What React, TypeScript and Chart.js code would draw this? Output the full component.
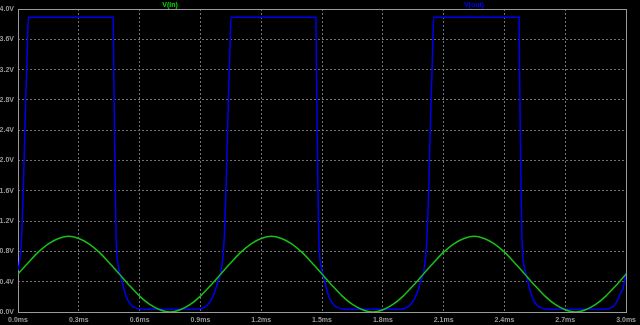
import React, { useEffect, useRef } from "react";
import { Chart, registerables } from "chart.js";
Chart.register(...registerables);

const seriesNames = ["V(in)", "V(out)"];
const lineColors = ["#18c018", "#0000f0"];
const labelColors = ["#00e000", "#0000ff"];

// V(in) sampled every 0.05 ms
const vinTimes = [
  0.0, 0.05, 0.1, 0.15, 0.2, 0.25, 0.3, 0.35, 0.4, 0.45,
  0.5, 0.55, 0.6, 0.65, 0.7, 0.75, 0.8, 0.85, 0.9, 0.95,
  1.0, 1.05, 1.1, 1.15, 1.2, 1.25, 1.3, 1.35, 1.4, 1.45,
  1.5, 1.55, 1.6, 1.65, 1.7, 1.75, 1.8, 1.85, 1.9, 1.95,
  2.0, 2.05, 2.1, 2.15, 2.2, 2.25, 2.3, 2.35, 2.4, 2.45,
  2.5, 2.55, 2.6, 2.65, 2.7, 2.75, 2.8, 2.85, 2.9, 2.95,
  3.0,
];
const vinValues = [
  0.5, 0.65, 0.79, 0.9, 0.97, 1.0, 0.97, 0.9, 0.79, 0.65,
  0.5, 0.35, 0.21, 0.1, 0.03, 0.0, 0.03, 0.1, 0.21, 0.35,
  0.5, 0.65, 0.79, 0.9, 0.97, 1.0, 0.97, 0.9, 0.79, 0.65,
  0.5, 0.35, 0.21, 0.1, 0.03, 0.0, 0.03, 0.1, 0.21, 0.35,
  0.5, 0.65, 0.79, 0.9, 0.97, 1.0, 0.97, 0.9, 0.79, 0.65,
  0.5, 0.35, 0.21, 0.1, 0.03, 0.0, 0.03, 0.1, 0.21, 0.35,
  0.5,
];

// V(out) read points
const voutTimes = [
  0.0, 0.005, 0.012, 0.018, 0.022, 0.026, 0.03, 0.034, 0.039, 0.043, 0.047, 0.051,
  0.47, 0.472, 0.476, 0.48, 0.484, 0.488, 0.494, 0.5, 0.508, 0.517, 0.525, 0.533, 0.541, 0.553, 0.565, 0.58, 0.598, 0.65,
  0.85, 0.892, 0.91, 0.925, 0.94, 0.957, 0.97, 0.982, 0.992, 1.0,
  1.005, 1.012, 1.018, 1.022, 1.026, 1.03, 1.034, 1.039, 1.043, 1.047, 1.051,
  1.47, 1.472, 1.476, 1.48, 1.484, 1.488, 1.494, 1.5, 1.508, 1.517, 1.525, 1.533, 1.541, 1.553, 1.565, 1.58, 1.598, 1.65,
  1.85, 1.892, 1.91, 1.925, 1.94, 1.957, 1.97, 1.982, 1.992, 2.0,
  2.005, 2.012, 2.018, 2.022, 2.026, 2.03, 2.034, 2.039, 2.043, 2.047, 2.051,
  2.472, 2.474, 2.478, 2.482, 2.486, 2.49, 2.496, 2.502, 2.51, 2.519, 2.527, 2.535, 2.543, 2.555, 2.567, 2.582, 2.6, 2.65,
  2.85, 2.902, 2.92, 2.935, 2.951, 2.965, 2.975, 2.984, 2.993, 3.0,
];
const voutValues = [
  0.55, 0.62, 0.76, 1.0, 1.3, 1.6, 2.0, 2.4, 2.9, 3.2, 3.6, 3.89,
  3.89, 3.3, 2.4, 1.6, 1.0, 0.75, 0.62, 0.54, 0.46, 0.36, 0.28, 0.21, 0.16, 0.11, 0.075, 0.055, 0.04, 0.035,
  0.035, 0.04, 0.05, 0.07, 0.11, 0.18, 0.26, 0.36, 0.45, 0.5,
  0.6, 0.75, 1.0, 1.3, 1.6, 2.0, 2.4, 2.9, 3.2, 3.6, 3.89,
  3.89, 3.3, 2.4, 1.6, 1.0, 0.75, 0.62, 0.54, 0.46, 0.36, 0.28, 0.21, 0.16, 0.11, 0.075, 0.055, 0.04, 0.035,
  0.035, 0.04, 0.05, 0.07, 0.11, 0.18, 0.26, 0.36, 0.45, 0.5,
  0.6, 0.75, 1.0, 1.3, 1.6, 2.0, 2.4, 2.9, 3.2, 3.6, 3.89,
  3.89, 3.3, 2.4, 1.6, 1.0, 0.75, 0.62, 0.54, 0.46, 0.36, 0.28, 0.21, 0.16, 0.11, 0.075, 0.055, 0.04, 0.035,
  0.035, 0.04, 0.05, 0.07, 0.12, 0.2, 0.26, 0.3, 0.42, 0.52,
];

const xMin = 0;
const xMax = 3.0;
const xStep = 0.3;
const yMin = 0;
const yMax = 4.0;
const yStep = 0.4;

const tickFont = { family: "Liberation Sans", size: 7, weight: "bold" };

const framePlugin = {
  id: "frame",
  beforeDraw(chart: any) {
    const ctx = chart.ctx;
    ctx.save();
    ctx.fillStyle = "#000000";
    ctx.fillRect(0, 0, chart.width, chart.height);
    ctx.restore();
  },
  beforeDatasetsDraw(chart: any) {
    const { ctx, chartArea } = chart;
    ctx.save();
    ctx.strokeStyle = "#9a9a9a";
    ctx.lineWidth = 1;
    ctx.setLineDash([]);
    ctx.strokeRect(
      Math.round(chartArea.left) + 0.5,
      Math.round(chartArea.top) + 0.5,
      Math.round(chartArea.right - chartArea.left),
      Math.round(chartArea.bottom - chartArea.top)
    );
    ctx.restore();
  },
  afterDraw(chart: any) {
    const { ctx, chartArea } = chart;
    ctx.save();
    ctx.font = 'bold 7px "Liberation Sans"';
    ctx.textAlign = "center";
    ctx.textBaseline = "middle";
    chart.data.datasets.forEach((ds: any, i: number) => {
      const frac = i === 0 ? 0.25 : 0.75;
      const x = chartArea.left + (chartArea.right - chartArea.left) * frac;
      ctx.fillStyle = labelColors[i];
      ctx.fillText(ds.label, x, 5);
    });
    ctx.restore();
  },
};

export default function App() {
  const ref = useRef<HTMLCanvasElement | null>(null);
  useEffect(() => {
    document.body.style.margin = "0";
    document.body.style.background = "#000";
    if (!ref.current) return;
    const chart = new Chart(ref.current, {
      type: "line",
      data: {
        datasets: [
          {
            label: seriesNames[0],
            data: vinTimes.map((t, i) => ({ x: t, y: vinValues[i] })),
            borderColor: lineColors[0],
            borderWidth: 1.5,
            pointRadius: 0,
            cubicInterpolationMode: "monotone",
            order: 0,
          },
          {
            label: seriesNames[1],
            data: voutTimes.map((t, i) => ({ x: t, y: voutValues[i] })),
            borderColor: lineColors[1],
            borderWidth: 1.5,
            pointRadius: 0,
            cubicInterpolationMode: "monotone",
            order: 1,
          },
        ],
      },
      options: {
        animation: false,
        responsive: false,
        maintainAspectRatio: false,
        layout: { padding: { top: 9, right: 10, left: 0, bottom: 0 } },
        plugins: { legend: { display: false }, tooltip: { enabled: false } },
        scales: {
          x: {
            type: "linear",
            min: xMin,
            max: xMax,
            afterFit: (s: any) => {
              s.height = 13;
            },
            ticks: {
              stepSize: xStep,
              color: "#9a9a9a",
              padding: 4,
              maxRotation: 0,
              autoSkip: false,
              font: tickFont,
              callback: (v: any) => Number(v).toFixed(1) + "ms",
            },
            grid: { color: "#707070", drawTicks: false, lineWidth: 1 },
            border: { display: false, dash: [2, 2] },
          },
          y: {
            type: "linear",
            min: yMin,
            max: yMax,
            afterFit: (s: any) => {
              s.width = 18;
            },
            ticks: {
              stepSize: yStep,
              color: "#9a9a9a",
              padding: 4,
              autoSkip: false,
              font: tickFont,
              callback: (v: any) => Number(v).toFixed(1) + "V",
            },
            grid: { color: "#707070", drawTicks: false, lineWidth: 1 },
            border: { display: false, dash: [2, 2] },
          },
        },
      },
      plugins: [framePlugin],
    } as any);
    return () => chart.destroy();
  }, []);
  return (
    <div style={{ width: 640, height: 325, background: "#000" }}>
      <canvas ref={ref} width={640} height={325} style={{ display: "block" }} />
    </div>
  );
}
